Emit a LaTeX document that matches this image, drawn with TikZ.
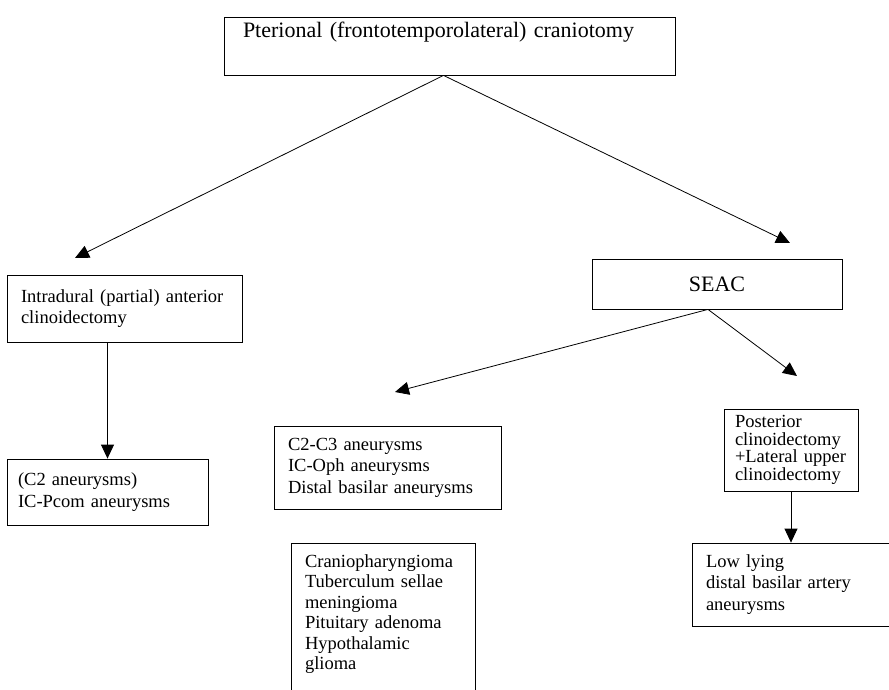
\documentclass[tikz,border=0pt]{standalone}
\usepackage{fontspec}
\setmainfont{Liberation Serif}
\usetikzlibrary{arrows.meta,calc}
\newcommand{\bigtxt}{\fontsize{22}{26}\selectfont}
\newcommand{\smalltxt}{\fontsize{18.5}{21.5}\selectfont}
\tikzset{
  box/.style={draw, line width=0.8pt, align=left, inner ysep=4pt, font=\smalltxt},
  arr/.style={-{Triangle[length=14pt,width=13pt]}, line width=0.8pt},
}
\begin{document}
\begin{tikzpicture}[x=1pt,y=-1pt]
  \useasboundingbox (0,0) rectangle (889,690);
  % approaches
  \node[box, font=\bigtxt, minimum width=451, minimum height=58, text width=413, inner xsep=19, text depth=33pt] (ptc) at (449.5,46) {Pterional (frontotemporolateral) craniotomy};
  \node[box, minimum width=235, minimum height=67, text width=207, inner xsep=14] (intra) at (124.5,308.5) {Intradural (partial) anterior\\clinoidectomy};
  \node[box, font=\bigtxt, align=center, minimum width=250, minimum height=50] (seac) at (717,284) {SEAC};
  % indications
  \node[box, minimum width=201, minimum height=66, text width=179, inner xsep=11] (c2) at (107.5,492) {(C2 aneurysms)\\IC-Pcom aneurysms};
  \node[box, minimum width=227, minimum height=83, text width=199, inner xsep=14] (mid) at (387.5,467.5) {C2-C3 aneurysms\\IC-Oph aneurysms\\Distal basilar aneurysms};
  \node[box, anchor=north, font=\fontsize{18.5}{20.5}\selectfont, minimum width=184, text width=156, inner xsep=14, inner ysep=11, text depth=125pt] (tum) at (383,543) {Craniopharyngioma\\Tuberculum sellae\\meningioma\\Pituitary adenoma\\Hypothalamic\\glioma};
  \node[box, font=\fontsize{18.5}{17.5}\selectfont, minimum width=134, minimum height=82, text width=112, inner xsep=11] (post) at (791,450) {Posterior\\clinoidectomy\\+Lateral upper\\clinoidectomy};
  \node[box, minimum width=210, minimum height=83, text width=182, inner xsep=14] (low) at (797,584.5) {Low lying\\distal basilar artery\\aneurysms};
  % free arrow ends
  \coordinate (tipL) at (75,258);
  \coordinate (tipR) at (790,243);
  \coordinate (tipM) at (395,392);
  \coordinate (tipP) at (797,376);
  \draw[arr] ([xshift=-6pt]ptc.south) -- (tipL);
  \draw[arr] ([xshift=-6pt]ptc.south) -- (tipR);
  \draw[arr] (intra.south -| c2.north) -- (c2.north);
  \draw[arr] ([xshift=-9pt]seac.south) -- (tipM);
  \draw[arr] ([xshift=-9pt]seac.south) -- (tipP);
  \draw[arr] (post.south) -- (post.south |- low.north);
\end{tikzpicture}
\end{document}
